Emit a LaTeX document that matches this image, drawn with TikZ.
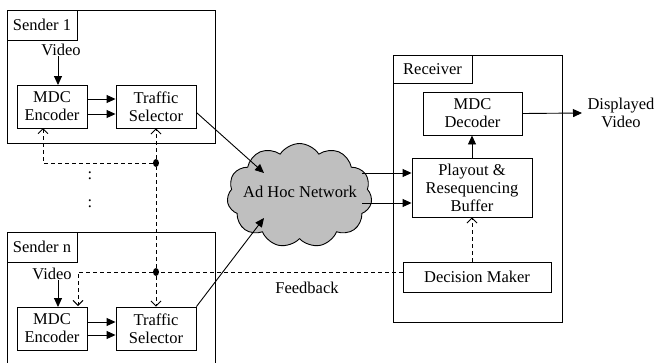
\documentclass[tikz,border=0pt]{standalone}
\usepackage{fontspec}
\setmainfont{Liberation Serif}
\usetikzlibrary{arrows.meta,shapes.symbols,shapes.geometric}
\begin{document}
\begin{tikzpicture}[x=1pt,y=-1pt,
  font=\fontsize{16.5}{18}\selectfont,
  line width=0.9pt,
  blk/.style={draw, align=center, inner sep=0pt},
  frame/.style={draw, inner sep=0pt},
  sarrow/.style={-{Triangle[length=9pt,width=8pt]}},
  fb/.style={dash pattern=on 4pt off 3pt},
  fbarrow/.style={fb,-{Straight Barb[length=5pt,width=10pt]}},
  dotn/.style={fill, ellipse, inner sep=0pt, minimum width=6pt, minimum height=8pt},
  lbl/.style={align=center, inner sep=0pt}]
\useasboundingbox (0,0) rectangle (655,362);

% Sender 1
\node[frame, minimum width=208pt, minimum height=133pt] (s1) at (111,76.5) {};
\node[frame, minimum width=70pt, minimum height=30pt] (s1l) at (42,25) {Sender 1};
\node[lbl] (v1) at (61,50) {Video};
\node[blk, minimum width=70pt, minimum height=43pt] (e1) at (52,106.5) {MDC\\Encoder};
\node[blk, minimum width=80pt, minimum height=43pt] (t1) at (156,106.5) {Traffic\\Selector};

% Sender n
\draw (7,363) -- (7,232) -- (215,232) -- (215,363);
\node[frame, minimum width=70pt, minimum height=30pt] (snl) at (42,247) {Sender n};
\node[lbl] (vn) at (52,274) {Video};
\node[blk, minimum width=70pt, minimum height=43pt] (en) at (52,328.5) {MDC\\Encoder};
\node[blk, minimum width=80pt, minimum height=43pt] (tn) at (156,328.5) {Traffic\\Selector};

% dots
\node[lbl] (c1) at (90,176) {:};
\node[lbl] (c2) at (90,204) {:};

% Cloud
\node[cloud, cloud puffs=11, cloud puff arc=115, aspect=1.4, draw, fill=black!25,
      minimum width=145pt, minimum height=104pt, inner sep=0pt] (cl) at (299.5,195.5) {};
\node[lbl] (cltxt) at (300,192) {Ad Hoc Network};
\coordinate (cin1) at (264,173);
\coordinate (cin2) at (264,218);
\coordinate (cout1) at (362,173);
\coordinate (cout2) at (362,203);

% Receiver
\node[frame, minimum width=169pt, minimum height=267pt] (rx) at (477.5,188.5) {};
\node[frame, minimum width=79pt, minimum height=28pt] (rxl) at (432.5,69) {Receiver};
\node[blk, minimum width=99pt, minimum height=43pt] (dec) at (472.5,113.5) {MDC\\Decoder};
\node[blk, minimum width=120pt, minimum height=59pt] (pb) at (472,187.5) {Playout \&\\Resequencing\\Buffer};
\node[blk, minimum width=148pt, minimum height=30pt] (dm) at (477,277) {Decision Maker};
\node[lbl] (disp) at (621,113) {Displayed\\Video};
\coordinate (dout) at (582,113);
\node[lbl] (fbl) at (307,288) {Feedback};

% solid arrows
\draw[sarrow] (v1.south -| 58,0) -- (58,85);
\draw[sarrow] (vn.south -| 58,0) -- (58,307);
\draw[sarrow] ([yshift=7.5pt]e1.east) -- ([yshift=7.5pt]t1.west);
\draw[sarrow] ([yshift=-7.5pt]e1.east) -- ([yshift=-7.5pt]t1.west);
\draw[sarrow] ([yshift=6.5pt]en.east) -- ([yshift=6.5pt]tn.west);
\draw[sarrow] ([yshift=-6.5pt]en.east) -- ([yshift=-6.5pt]tn.west);
\draw[sarrow] ([yshift=-6pt]t1.east) -- (cin1);
\draw[sarrow] (tn.north east) -- (cin2);
\draw[sarrow] (cout1) -- (cout1 -| pb.west);
\draw[sarrow] (cout2) -- (cout2 -| pb.west);
\draw[sarrow] (pb.north) -- (pb.north |- dec.south);
\draw[sarrow] (dec.east) -- (dout);

% feedback
\node[dotn] (d1) at (156,163) {};
\node[dotn] (d2) at (156,272) {};
\draw[fbarrow] (dm.north -| pb.south) -- (pb.south);
\draw[fb] (dm.west |- d2) -- (d2);
\draw[fbarrow] (d2) -- (78,272) -- (78,306);
\draw[fbarrow] (d2) -- (tn.north);
\draw[fb] (d2) -- (d1);
\draw[fbarrow] (d1) -- (t1.south);
\draw[fbarrow] (d1) -- (43,163) -- (43,128);
\end{tikzpicture}
\end{document}
